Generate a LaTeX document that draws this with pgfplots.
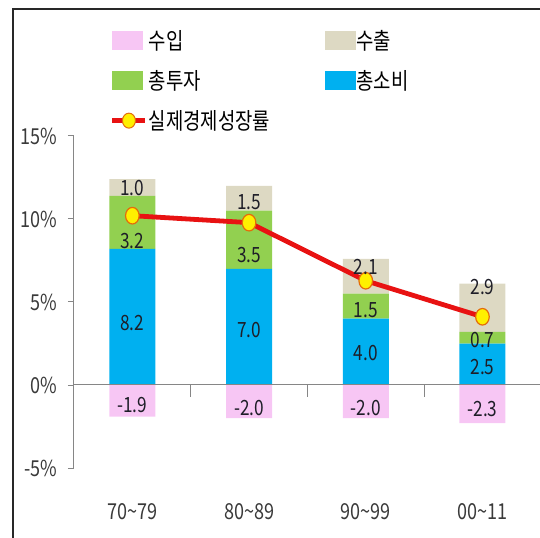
\documentclass[border=0pt]{standalone}
\usepackage{fontspec}
\setmainfont{Noto Sans CJK KR}[FakeStretch=0.82]
\usepackage{pgfplots}
\pgfplotsset{compat=1.18}
\definecolor{impc}{RGB}{247,198,244}
\definecolor{expc}{RGB}{221,217,195}
\definecolor{invc}{RGB}{146,208,80}
\definecolor{conc}{RGB}{0,176,240}
\definecolor{linec}{RGB}{232,18,18}
\definecolor{markc}{RGB}{255,240,0}
\definecolor{markedge}{RGB}{228,108,10}
\definecolor{axisgray}{RGB}{134,134,134}
\definecolor{tickc}{RGB}{58,58,58}
\definecolor{labc}{RGB}{30,30,40}
\definecolor{framec}{RGB}{40,40,40}
\newcommand{\bigfont}{\fontsize{21bp}{25bp}\selectfont}
\newcommand{\tickfont}{\fontsize{22bp}{26bp}\selectfont}
\newcommand{\legfont}{\fontsize{23bp}{27bp}\selectfont}

\pgfplotsset{
  base/.style={at={(0,0)}, anchor=south west, scale only axis,
    width=466.8bp, height=332bp,
    xmin=-0.5, xmax=3.5, ymin=-5, ymax=15},
  swatch/.style={legend image code/.code={\fill[#1] (0bp,-9bp) rectangle (30bp,9bp);}},
}

\begin{document}
\begin{tikzpicture}
\path[use as bounding box] (-74bp,-70bp) rectangle (466bp,468bp);

% positive components, stacked
\begin{axis}[base,
  ybar stacked, bar width=46bp,
  axis x line*=bottom, axis y line*=left,
  x axis line style={draw=none},
  xtick={0,1,2,3},
  xticklabels={70\textasciitilde79, 80\textasciitilde89, 90\textasciitilde99, 00\textasciitilde11},
  major x tick style={draw=none},
  xticklabel style={yshift=-26bp},
  ytick={-5,0,5,10,15},
  yticklabel={\pgfmathprintnumber{\tick}\%},
  yticklabel style={xshift=-7bp},
  y axis line style={axisgray, line width=1bp},
  major y tick style={axisgray, line width=1bp},
  tick align=outside, major tick length=6bp,
  tick label style={font=\tickfont, text=tickc},
  /pgf/number format/assume math mode=true,
  legend cell align=left,
  legend columns=2,
  legend style={at={(0,1)}, anchor=north west, xshift=33bp, yshift=109bp,
    draw=none, fill=none, font=\legfont, row sep=17.5bp,
    nodes={inner sep=1bp},
    /tikz/every even column/.append style={column sep=54bp},
    /tikz/every odd column/.append style={column sep=0bp}},
]
\addlegendimage{swatch=impc}
\addlegendimage{swatch=expc}
\addlegendimage{swatch=invc}
\addlegendimage{swatch=conc}
\addlegendimage{legend image code/.code={
  \draw[linec, line width=4.5bp] (0bp,0bp) -- (33bp,0bp);
  \filldraw[fill=markc, draw=markedge, line width=1bp] (16.5bp,0bp) ellipse (6.5bp and 7.5bp);}}
\legend{수입, 수출, 총투자, 총소비, 실제경제성장률}

\addplot[fill=conc, draw=none] coordinates {(0,8.2)(1,7.0)(2,4.0)(3,2.5)};
\addplot[fill=invc, draw=none] coordinates {(0,3.2)(1,3.5)(2,1.5)(3,0.7)};
\addplot[fill=expc, draw=none] coordinates {(0,1.0)(1,1.5)(2,2.1)(3,2.9)};
\end{axis}

% imports, growth line and value labels
\begin{axis}[base, hide axis, clip=false]
\addplot[ybar, bar width=46bp, bar shift=0pt, fill=impc, draw=none]
  coordinates {(0,-1.9)(1,-2.0)(2,-2.0)(3,-2.3)};
\draw[axisgray, line width=1bp] (axis cs:-0.5,0) -- (axis cs:3.5,0);
\draw[axisgray, line width=1bp] (axis cs:0.5,0) -- ([yshift=-12bp]axis cs:0.5,0);
\draw[axisgray, line width=1bp] (axis cs:1.5,0) -- ([yshift=-12bp]axis cs:1.5,0);
\draw[axisgray, line width=1bp] (axis cs:2.5,0) -- ([yshift=-12bp]axis cs:2.5,0);

\addplot[linec, line width=4.8bp, mark=*, mark size=8.3bp,
  mark options={fill=markc, draw=markedge, line width=1.2bp, xscale=0.82}]
  coordinates {(0,10.2)(1,9.78)(2,6.28)(3,4.11)};

\addplot[draw=none, mark=none, nodes near coords, point meta=explicit symbolic,
  nodes near coords align=center,
  every node near coord/.append style={font=\bigfont, text=labc, inner sep=0pt}]
  coordinates {
    (0,3.73)[8.2] (0,8.67)[3.2] (0,11.87)[1.0] (0,-1.2)[-1.9]
    (1,3.31)[7.0] (1,7.83)[3.5] (1,11.04)[1.5] (1,-1.39)[-2.0]
    (2,1.91)[4.0] (2,4.52)[1.5] (2,7.13)[2.1] (2,-1.39)[-2.0]
    (3,1.08)[2.5] (3,2.71)[0.7] (3,5.92)[2.9] (3,-1.45)[-2.3]
  };
\end{axis}

\draw[framec, line width=2bp] (-61bp,-80bp) -- (-61bp,459bp) -- (480bp,459bp);
\end{tikzpicture}
\end{document}
